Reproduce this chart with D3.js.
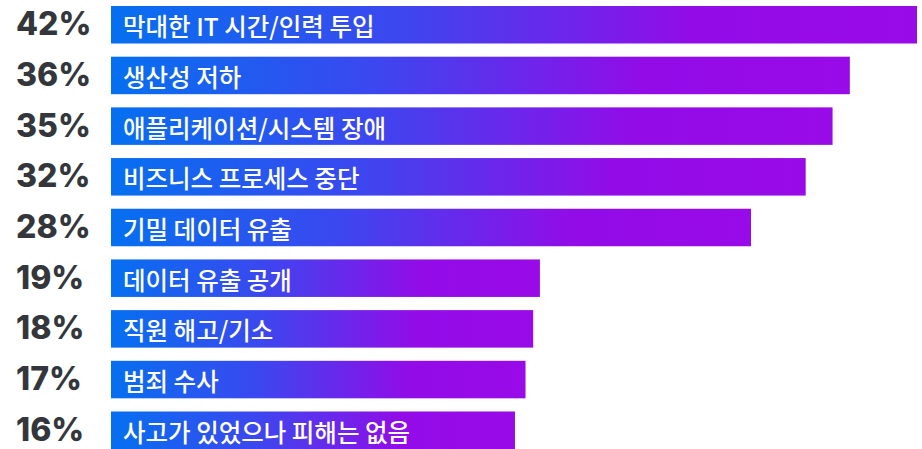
<!DOCTYPE html>
<html>
<head>
<meta charset="utf-8">
<script src="https://cdn.jsdelivr.net/npm/d3@7"></script>
<style>
  html, body { margin: 0; padding: 0; background: #ffffff; }
  svg { display: block; }
</style>
</head>
<body>
<svg id="chart" width="922" height="449"></svg>
<script>
// Data
const categories = [
  "막대한 IT 시간/인력 투입",
  "생산성 저하",
  "애플리케이션/시스템 장애",
  "비즈니스 프로세스 중단",
  "기밀 데이터 유출",
  "데이터 유출 공개",
  "직원 해고/기소",
  "범죄 수사",
  "사고가 있었으나 피해는 없음"
];
const valueLabels = ["42%", "36%", "35%", "32%", "28%", "19%", "18%", "17%", "16%"];
// Drawn bar lengths as they appear in the graphic (same % units, domain max 42)
const barLengths = [42, 38.5, 37.6, 36.2, 33.35, 22.35, 22.0, 21.6, 21.05];

const svg = d3.select("#chart");
const x = d3.scaleLinear().domain([0, 42]).range([111, 917]);
const y = d3.scaleBand().domain(categories).range([6, 449]).paddingInner(0.26).paddingOuter(0);

const defs = svg.append("defs");
const grad = defs.append("linearGradient")
  .attr("id", "barGrad")
  .attr("x1", "0%").attr("x2", "100%").attr("y1", "0%").attr("y2", "0%");
grad.append("stop").attr("offset", "0%").attr("stop-color", "#0570f0");
grad.append("stop").attr("offset", "35%").attr("stop-color", "#3a48ef");
grad.append("stop").attr("offset", "72%").attr("stop-color", "#920ce8");
grad.append("stop").attr("offset", "100%").attr("stop-color", "#990ae8");

const rows = svg.selectAll("g.row")
  .data(categories.map((c, i) => ({ c, label: valueLabels[i], len: barLengths[i] })))
  .join("g").attr("class", "row");

rows.append("rect")
  .attr("x", x(0))
  .attr("y", d => y(d.c))
  .attr("width", d => x(d.len) - x(0))
  .attr("height", y.bandwidth())
  .attr("fill", "url(#barGrad)");

rows.append("text")
  .attr("x", x(0) + 12)
  .attr("y", d => y(d.c) + y.bandwidth() / 2 + 1)
  .attr("dominant-baseline", "central")
  .attr("fill", "#ffffff")
  .attr("font-family", "'Noto Sans CJK KR', 'Noto Sans', sans-serif")
  .attr("font-weight", 500)
  .attr("font-size", 24.5)
  .text(d => d.c);

rows.append("text")
  .attr("x", 16)
  .attr("y", d => y(d.c) + y.bandwidth() / 2 - 1)
  .attr("dominant-baseline", "central")
  .attr("fill", "#33373c")
  .attr("font-family", "Inter, 'Liberation Sans', sans-serif")
  .attr("font-weight", 800)
  .attr("font-size", 32)
  .text(d => d.label);
</script>
</body>
</html>
